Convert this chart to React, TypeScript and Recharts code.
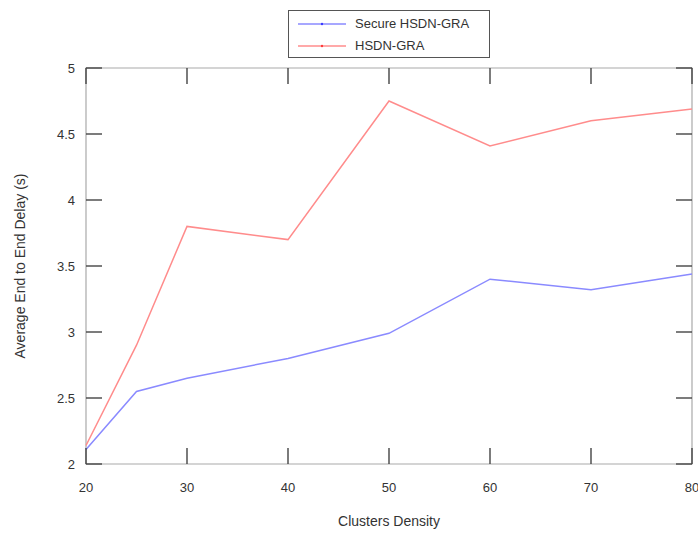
import React from 'react';
import { LineChart, Line, XAxis, YAxis, Label, ReferenceArea } from 'recharts';

const clusterDensity = [20, 25, 30, 40, 50, 60, 70, 80];
const secureHsdnGra = [2.11, 2.55, 2.65, 2.8, 2.99, 3.4, 3.32, 3.44];
const hsdnGra = [2.14, 2.9, 3.8, 3.7, 4.75, 4.41, 4.6, 4.69];
const xTicks = [20, 30, 40, 50, 60, 70, 80];
const yTicks = [2, 2.5, 3, 3.5, 4, 4.5, 5];
const seriesNames = ['Secure HSDN-GRA', 'HSDN-GRA'];
const seriesColors = ['#8a8aff', '#ff8c8c'];
const legendDotColors = ['#3a3aff', '#ff3a3a'];

const data = clusterDensity.map((x, i) => ({ x, secure: secureHsdnGra[i], hsdn: hsdnGra[i] }));

const FONT = '"Liberation Sans", Arial, Helvetica, sans-serif';
const TEXT = '#333';
const TICK = '#444';
const PLOT = { left: 86, right: 692, top: 68, bottom: 464 };
const TL = 16;

const XTick = (props: any) => (
  <g>
    <line x1={props.x} y1={PLOT.bottom} x2={props.x} y2={PLOT.bottom - TL} stroke={TICK} strokeWidth={1.4} />
    <line x1={props.x} y1={PLOT.top} x2={props.x} y2={PLOT.top + TL} stroke={TICK} strokeWidth={1.4} />
    <text x={props.x} y={491.5} textAnchor="middle" fontSize={13} fontFamily={FONT} fill={TEXT}>
      {props.payload.value}
    </text>
  </g>
);
const YTick = (props: any) => (
  <g>
    <line x1={PLOT.left} y1={props.y} x2={PLOT.left + TL} y2={props.y} stroke={TICK} strokeWidth={1.4} />
    <line x1={PLOT.right} y1={props.y} x2={PLOT.right - TL} y2={props.y} stroke={TICK} strokeWidth={1.4} />
    <text x={75} y={props.y} dy={4.5} textAnchor="end" fontSize={13} fontFamily={FONT} fill={TEXT}>
      {props.payload.value}
    </text>
  </g>
);

export default function App() {
  return (
    <div style={{ position: 'absolute', left: 0, top: 0, width: 698, height: 534, background: '#fff' }}>
      <LineChart width={698} height={534} data={data} margin={{ top: 68, right: 6, bottom: 40, left: 26 }}>
        <ReferenceArea
          x1={20}
          x2={80}
          y1={2}
          y2={5}
          fill="none"
          fillOpacity={0}
          stroke="#aaa"
          strokeWidth={1.2}
          ifOverflow="visible"
        />
        <XAxis
          dataKey="x"
          type="number"
          domain={[20, 80]}
          ticks={xTicks}
          height={30}
          axisLine={false}
          tickLine={false}
          tick={<XTick />}
          interval={0}
        >
          <Label
            content={(p: any) => (
              <text x={p.viewBox.x + p.viewBox.width / 2} y={525.5} textAnchor="middle" fontSize={14} fontFamily={FONT} fill={TEXT}>
                Clusters Density
              </text>
            )}
          />
        </XAxis>
        <YAxis
          type="number"
          domain={[2, 5]}
          ticks={yTicks}
          width={60}
          axisLine={false}
          tickLine={false}
          tick={<YTick />}
          interval={0}
        >
          <Label
            content={(p: any) => {
              const cy = p.viewBox.y + p.viewBox.height / 2;
              return (
                <text x={25} y={cy} textAnchor="middle" fontSize={14} fontFamily={FONT} fill={TEXT} transform={`rotate(-90 25 ${cy})`}>
                  Average End to End Delay (s)
                </text>
              );
            }}
          />
        </YAxis>
        <Line type="linear" dataKey="secure" name={seriesNames[0]} stroke={seriesColors[0]} strokeWidth={1.5} dot={false} isAnimationActive={false} />
        <Line type="linear" dataKey="hsdn" name={seriesNames[1]} stroke={seriesColors[1]} strokeWidth={1.5} dot={false} isAnimationActive={false} />
      </LineChart>
      <div
        style={{
          position: 'absolute',
          left: 288,
          top: 10,
          width: 200,
          height: 46,
          border: '1px solid #555',
          background: '#fff',
          fontFamily: FONT,
          fontSize: 13,
          color: TEXT,
        }}
      >
        {seriesNames.map((name, i) => (
          <div key={name} style={{ position: 'absolute', left: 0, top: i === 0 ? 4 : 26, height: 18, width: 200 }}>
            <svg width={60} height={18} style={{ position: 'absolute', left: 0, top: 0 }}>
              <line x1={9} y1={9} x2={57} y2={9} stroke={seriesColors[i]} strokeWidth={1.3} />
              <circle cx={33} cy={9} r={1.2} fill={legendDotColors[i]} />
            </svg>
            <span style={{ position: 'absolute', left: 66, top: 1, lineHeight: '16px', whiteSpace: 'nowrap' }}>{name}</span>
          </div>
        ))}
      </div>
    </div>
  );
}
